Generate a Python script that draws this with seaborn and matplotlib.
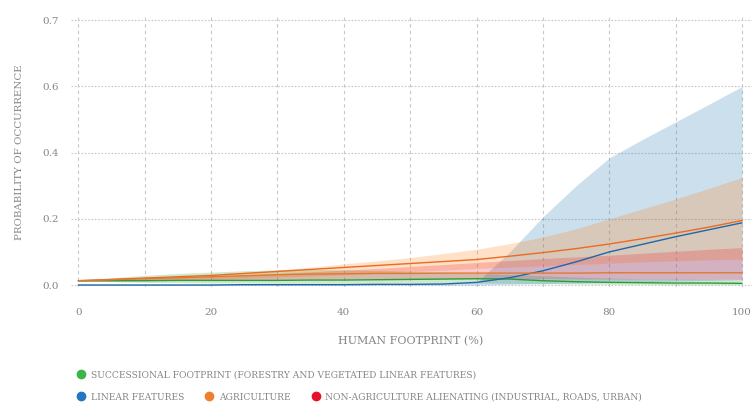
import numpy as np
import pandas as pd
import seaborn as sns
import matplotlib.pyplot as plt
from matplotlib.lines import Line2D

# human footprint (%) and modelled probability of occurrence (mean, lower, upper)
footprint = [0, 5, 10, 15, 20, 25, 30, 35, 40, 45, 50, 55, 60, 65, 70, 75, 80, 85, 90, 95, 100]

succ_mid = [.013, .013, .013, .014, .014, .014, .014, .015, .015, .016, .017, .018, .019, .018, .013, .010, .008, .007, .006, .006, .005]
succ_lo = [.012, .010, .008, .007, .006, .006, .005, .005, .005, .005, .006, .006, .006, .005, .004, .003, .002, .002, .001, .001, .001]
succ_hi = [.014, .022, .029, .035, .039, .043, .046, .047, .046, .044, .041, .038, .035, .032, .028, .024, .021, .019, .018, .017, .016]

lin_mid = [.000, .000, .000, .000, .000, .001, .001, .001, .001, .002, .002, .003, .008, .022, .043, .070, .100, .123, .146, .167, .188]
lin_lo = [.000, .000, .000, .000, .000, .000, .000, .000, .000, .000, .000, .000, .000, .002, .004, .006, .008, .010, .012, .014, .016]
lin_hi = [.001, .001, .001, .001, .001, .002, .002, .002, .003, .004, .005, .006, .008, .100, .206, .300, .384, .440, .493, .546, .600]

agr_mid = [.013, .017, .021, .025, .029, .035, .041, .047, .053, .059, .065, .071, .077, .087, .098, .110, .124, .140, .157, .175, .195]
agr_lo = [.011, .012, .014, .016, .018, .021, .024, .027, .031, .035, .040, .045, .050, .054, .058, .062, .066, .070, .073, .076, .078]
agr_hi = [.015, .018, .022, .026, .031, .037, .045, .054, .064, .073, .083, .095, .108, .125, .145, .170, .200, .230, .260, .292, .325]

nonag_mid = [.013, .016, .019, .022, .025, .028, .031, .033, .034, .035, .035, .036, .036, .036, .036, .036, .037, .037, .037, .037, .037]
nonag_lo = [.011, .012, .013, .014, .015, .016, .017, .018, .018, .019, .019, .019, .019, .019, .019, .018, .018, .018, .017, .017, .017]
nonag_hi = [.015, .017, .020, .023, .026, .030, .035, .040, .045, .050, .056, .062, .068, .074, .080, .085, .090, .096, .102, .108, .113]

y_ticks = [0.0, 0.2, 0.4, 0.6, 0.7]

series = [
    ("Successional", succ_mid, succ_lo, succ_hi, "#2ca02c", "#2e9a3c"),
    ("Linear", lin_mid, lin_lo, lin_hi, "#1f77b4", "#1f67aa"),
    ("Agriculture", agr_mid, agr_lo, agr_hi, "#ff7f0e", "#ec6a22"),
    ("Non-agriculture", nonag_mid, nonag_lo, nonag_hi, "#ee1c30", "#e07a30"),
]

sns.set_theme(style="white")
plt.rcParams["font.family"] = ["DejaVu Serif"]

fig = plt.figure(figsize=(7.53, 4.05), dpi=100)
ax = fig.add_axes([71 / 753, 1 - 287 / 405, 681 / 753, 270 / 405])


def fwd(v):
    v = np.asarray(v, dtype=float)
    return np.where(v <= 0.6, v, 0.6 + 2 * (v - 0.6))


def inv(p):
    p = np.asarray(p, dtype=float)
    return np.where(p <= 0.6, p, 0.6 + (p - 0.6) / 2)


ax.set_yscale("function", functions=(fwd, inv))

rows = []
for name, mid, lo, hi, fill_col, line_col in series:
    ax.fill_between(footprint, lo, hi, color=fill_col, alpha=0.23, linewidth=0)
    for x, y in zip(footprint, mid):
        rows.append({"footprint": x, "prob": y, "series": name})
df = pd.DataFrame(rows)

sns.lineplot(data=df, x="footprint", y="prob", hue="series",
             palette={s[0]: s[5] for s in series}, linewidth=1.0,
             legend=False, ax=ax)

ax.set_xlim(-1.1, 101.5)
ax.set_ylim(-0.006, 0.705)
ax.set_xticks([0, 20, 40, 60, 80, 100])
ax.set_xticks([10, 30, 50, 70, 90], minor=True)
ax.set_yticks(y_ticks)
ax.set_yticklabels([f"{t:.1f}" for t in y_ticks])
ax.yaxis.set_minor_locator(plt.NullLocator())

ax.grid(False)
ax.grid(axis="x", which="both", color="#c8c8c8", linestyle=(0, (3, 3)), linewidth=0.8)
ax.grid(axis="y", which="major", color="#c8c8c8", linestyle=(0, (1.5, 1.5)), linewidth=0.8)
for s in ax.spines.values():
    s.set_visible(False)
ax.tick_params(axis="both", which="both", length=0, colors="#858585", labelsize=7.5)
ax.tick_params(axis="x", pad=15)
ax.tick_params(axis="y", pad=9)
ax.set_xlabel("")
ax.set_ylabel("PROBABILITY OF OCCURRENCE", fontsize=7.4, color="#858585", labelpad=13)

fig.text(411 / 753, 1 - 341 / 405, "HUMAN FOOTPRINT (%)", ha="center", va="center",
         fontsize=8, color="#858585")


def dot(c):
    return Line2D([], [], marker="o", linestyle="", markersize=6, color=c)


leg_kw = dict(frameon=False, fontsize=6.6, handlelength=0.9, handletextpad=0.6,
              labelcolor="#858585", borderaxespad=0, borderpad=0)
fig.legend([dot("#3bb54a")],
           ["SUCCESSIONAL FOOTPRINT (FORESTRY AND VEGETATED LINEAR FEATURES)"],
           loc="center left", bbox_to_anchor=(77 / 753, 1 - 375 / 405), **leg_kw)
fig.legend([dot("#1f78c1"), dot("#f08030"), dot("#e8112d")],
           ["LINEAR FEATURES", "AGRICULTURE", "NON-AGRICULTURE ALIENATING (INDUSTRIAL, ROADS, URBAN)"],
           loc="center left", bbox_to_anchor=(77 / 753, 1 - 397 / 405), ncol=3,
           columnspacing=2.3, **leg_kw)

fig.savefig("out.png", dpi=100, facecolor="white")
